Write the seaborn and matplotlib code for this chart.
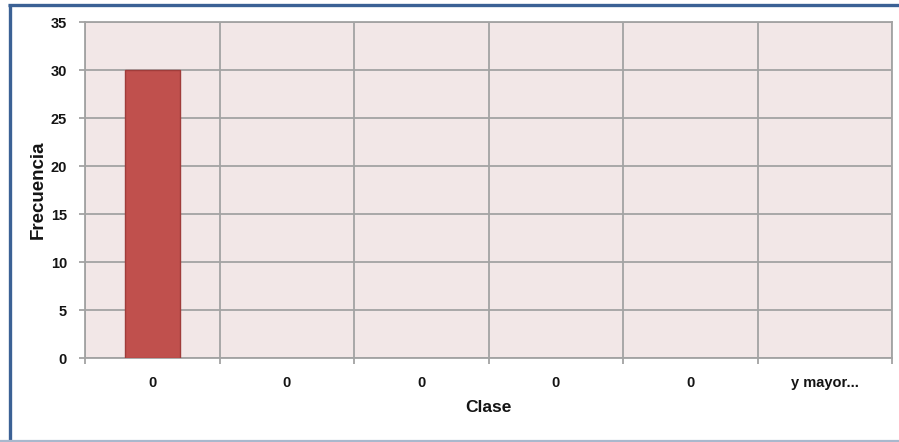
import matplotlib
matplotlib.use("Agg")
import matplotlib.pyplot as plt
from matplotlib.lines import Line2D
import seaborn as sns
import pandas as pd
import numpy as np

# Data
clase_labels = ["0", "0", "0", "0", "0", "y mayor..."]
frecuencia = [30, 0, 0, 0, 0, 0]
y_ticks = [0, 5, 10, 15, 20, 25, 30, 35]

sns.set_style("white")
plt.rcParams["font.family"] = ["Liberation Sans", "DejaVu Sans"]

df = pd.DataFrame({"pos": list(range(len(clase_labels))), "Frecuencia": frecuencia})

fig = plt.figure(figsize=(8.99, 4.42), dpi=100)
W, H = 899, 442
ax = fig.add_axes([85 / W, 1 - 358 / H, (892 - 85) / W, (358 - 22) / H])
ax.set_facecolor("#F2E7E7")

sns.barplot(data=df, x="pos", y="Frecuencia", ax=ax, color="#C0504D",
            saturation=1, width=0.41, edgecolor="#A03C3A", linewidth=1, zorder=3)
for p in ax.patches:
    if p.get_height() == 0:
        p.set_linewidth(0)

n = len(clase_labels)
ax.set_xlim(-0.5, n - 0.5)
ax.set_ylim(0, 35)
ax.set_yticks(y_ticks)
ax.set_xticks(range(n))
ax.set_xticklabels(clase_labels)
ax.set_xticks(np.arange(-0.5, n, 1.0), minor=True)

grid_c = "#A3A3A3"
ax.grid(False)
ax.yaxis.grid(True, which="major", color=grid_c, linewidth=1.3, zorder=1)
ax.xaxis.grid(True, which="minor", color=grid_c, linewidth=1.3, zorder=1)
ax.set_axisbelow(True)

for s in ax.spines.values():
    s.set_visible(True)
    s.set_color(grid_c)
    s.set_linewidth(1.3)

txt_c = "#141414"
ax.tick_params(axis="y", which="major", length=4, width=1.3, color=grid_c, pad=9,
               labelsize=10.5, labelcolor=txt_c, left=True)
ax.tick_params(axis="x", which="major", length=0, pad=13, labelsize=10.5, labelcolor=txt_c)
ax.tick_params(axis="x", which="minor", length=4, width=1.3, color=grid_c, bottom=True)
for lab in ax.get_xticklabels() + ax.get_yticklabels():
    lab.set_fontweight("bold")

ax.set_xlabel("Clase", fontsize=12.5, fontweight="bold", color=txt_c)
ax.set_ylabel("Frecuencia", fontsize=13.5, fontweight="bold", color=txt_c)
ax.xaxis.set_label_coords((488 - 85) / 807, 1 - (407 - 22) / 336)
ax.xaxis.label.set_va("center")
ax.yaxis.set_label_coords((38 - 85) / 807, 0.5)
ax.yaxis.label.set_va("center")

# Frame lines of the chart area
fig.add_artist(Line2D([8 / W, 1], [1 - 5 / H, 1 - 5 / H], transform=fig.transFigure,
                      color="#3B6195", linewidth=2.4, solid_capstyle="butt"))
fig.add_artist(Line2D([9.5 / W, 9.5 / W], [0, 1 - 4 / H], transform=fig.transFigure,
                      color="#3B6195", linewidth=2.4, solid_capstyle="butt"))
fig.add_artist(Line2D([0, 1], [1.5 / H, 1.5 / H], transform=fig.transFigure,
                      color="#A9B8CD", linewidth=1.6, solid_capstyle="butt"))

fig.savefig("out.png", dpi=100)
